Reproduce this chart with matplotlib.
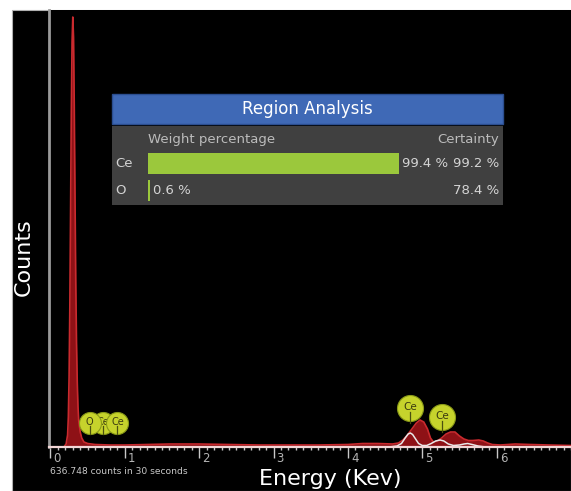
import matplotlib
matplotlib.use('Agg')
import matplotlib.pyplot as plt
import numpy as np
from matplotlib.patches import Rectangle
from matplotlib.transforms import offset_copy

# measured spectrum (energy in keV, counts in arbitrary units)
energy = [-0.02, 0.18, 0.21, 0.23, 0.24, 0.25, 0.26, 0.27, 0.28, 0.29, 0.30,
          0.31, 0.32, 0.33, 0.34, 0.35, 0.36, 0.37, 0.38, 0.40, 0.42, 0.45,
          0.50, 0.60, 0.80, 1.00, 1.30, 1.60, 2.00, 2.40, 2.80, 3.20, 3.60,
          4.00, 4.20, 4.40, 4.60, 4.68, 4.74, 4.80, 4.86, 4.92, 4.97, 5.02,
          5.07, 5.11, 5.15, 5.20, 5.26, 5.32, 5.38, 5.44, 5.50, 5.56, 5.62,
          5.68, 5.76, 5.82, 5.88, 5.94, 6.05, 6.25, 6.45, 6.70, 7.00]
counts = [0, 0, 3, 12, 30, 70, 140, 235, 335, 405, 430,
          410, 340, 250, 165, 105, 65, 40, 26, 15, 9, 5,
          3.5, 2.5, 2, 2, 2.5, 3, 3, 2.5, 2, 2, 2,
          2.5, 3.5, 3.5, 3, 4, 7, 12, 18, 24, 27, 25,
          18, 9, 5, 6, 9, 13, 15, 15, 11, 8, 6.5,
          6.5, 7, 6, 4, 2.5, 2, 3, 2.5, 2, 1.5]

# fitted Ce profile (white line)
fit_energy = [-0.02, 4.55, 4.66, 4.72, 4.77, 4.81, 4.84, 4.87, 4.91, 4.95, 5.00,
              5.06, 5.12, 5.18, 5.24, 5.29, 5.35, 5.42, 5.50, 5.56, 5.61, 5.67,
              5.75, 5.85, 7.00]
fit_counts = [0, 0, 1, 3.5, 9, 13, 14, 12.5, 8, 3.5, 1.5,
              1.5, 3.5, 6, 7, 6, 3, 1.5, 2, 3, 3.5, 2.5,
              1, 0, 0]

# element markers
marker_labels = ['O', 'Ce', 'Ce', 'Ce', 'Ce']
marker_energy = [0.525, 0.70, 0.90, 4.84, 5.262]
marker_height = [24, 24, 24, 39, 30]

# region analysis table
elements = ['Ce', 'O']
weight_pct = [99.4, 0.6]
certainty = [99.2, 78.4]

W, H = 571, 491
fig = plt.figure(figsize=(W / 100, H / 100), dpi=100, facecolor='white')


def fx(x):
    return x / W


def fy(y):
    return 1 - y / H


bg = Rectangle((fx(12), 0), 1 - fx(12), fy(10), transform=fig.transFigure,
               facecolor='black', edgecolor='#b0b0b0', lw=0.8, zorder=-2)
fig.patches.append(bg)

ax = fig.add_axes([fx(49), fy(447), fx(571) - fx(49), fy(10) - fy(447)])
ax.set_facecolor('black')
ax.set_xlim(-0.02, 7.0)
ax.set_ylim(0, 437)

ax.fill_between(energy, 0, counts, color='#8e1116', lw=0, zorder=2)
ax.plot(energy, counts, color='#c92a2e', lw=1.2, zorder=3)
ax.plot(fit_energy, fit_counts, color='#e8e8e8', lw=1.1, zorder=3.5)
ax.axhline(0, color='#f2d6d6', lw=1.6, zorder=4, clip_on=False)

for sp in ['top', 'right', 'bottom']:
    ax.spines[sp].set_visible(False)
ax.spines['left'].set_color('#9a9a9a')
ax.spines['left'].set_linewidth(2)
ax.set_yticks([])

ax.set_xticks(range(0, 7))
ax.set_xticks(np.arange(0, 7.01, 0.1), minor=True)
ax.tick_params(axis='x', which='major', length=8, width=1, color='#c8c8c8',
               labelbottom=False, direction='out')
ax.tick_params(axis='x', which='minor', length=2.2, width=1, color='#c8c8c8',
               direction='out')
lab_trans = offset_copy(ax.get_xaxis_transform(), fig=fig, x=3, y=-5, units='dots')
for i in range(0, 7):
    ax.text(i, 0, str(i), transform=lab_trans, ha='left', va='top',
            fontsize=8.5, color='#b4b4b4')

# element markers
zorders = [7, 6, 7, 7, 7]
for lab, e, h, z in zip(marker_labels, marker_energy, marker_height, zorders):
    big = e > 3
    r = 13 if big else 11
    ax.plot(e, h, 'o', ms=2 * r * 0.72, mfc='#c6d32c', mec='#8a9a18', mew=0.8,
            zorder=z, clip_on=False)
    ax.plot([e, e], [h - 0.3 * r, h - r - (2 if big else 0)], color='#4a5010',
            lw=0.9, zorder=z + 0.1)
    ax.text(e, h + 1, lab, ha='center', va='center', fontsize=7.5 if big else 7,
            color='#3a3a10', zorder=z + 0.2)

fig.text(fx(23.5), fy(257), 'Counts', rotation=90, ha='center', va='center',
         fontsize=16, color='white')
fig.text(fx(330), fy(485), 'Energy (Kev)', ha='center', va='baseline',
         fontsize=16, color='white')
fig.text(fx(50), fy(474), '636.748 counts in 30 seconds', ha='left',
         va='baseline', fontsize=6.6, color='#c8c8c8')

# Region analysis panel
header = Rectangle((fx(112), fy(124)), fx(503) - fx(112), fy(94) - fy(124),
                   transform=fig.transFigure, facecolor='#3f69b6',
                   edgecolor='#2b4e90', lw=1, zorder=4)
body = Rectangle((fx(112), fy(205)), fx(503) - fx(112), fy(126) - fy(205),
                 transform=fig.transFigure, facecolor='#404040',
                 edgecolor='none', zorder=4)
fig.patches.append(header)
fig.patches.append(body)
fig.text(fx(307.5), fy(109), 'Region Analysis', ha='center', va='center',
         fontsize=12, color='white', zorder=6)
fig.text(fx(148), fy(140), 'Weight percentage', ha='left', va='center',
         fontsize=9.5, color='#bcbcbc', zorder=6)
fig.text(fx(499), fy(140), 'Certainty', ha='right', va='center',
         fontsize=9.5, color='#bcbcbc', zorder=6)

bx = fig.add_axes([fx(148), fy(203.5), fx(400.5) - fx(148), fy(150.5) - fy(203.5)],
                  zorder=5)
bx.set_facecolor('none')
bx.axis('off')
bx.set_xlim(0, 100)
bx.set_ylim(1.5, -0.5)
bx.barh(range(len(elements)), weight_pct, height=0.79, color='#9bc83c', lw=0)
val_trans = offset_copy(bx.transData, fig=fig, x=3, y=0, units='dots')
for i, (el, w, c) in enumerate(zip(elements, weight_pct, certainty)):
    bx.text(w, i, f'{w} %', transform=val_trans, ha='left', va='center',
            fontsize=9.5, color='#d4d4d4')
    ypix = 150.5 + 26.5 * (i + 0.5)
    fig.text(fx(115), fy(ypix), el, ha='left', va='center', fontsize=9.5,
             color='#d4d4d4', zorder=6)
    fig.text(fx(499), fy(ypix), f'{c} %', ha='right', va='center',
             fontsize=9.5, color='#d4d4d4', zorder=6)

fig.savefig('out.png', dpi=100, facecolor='white')
